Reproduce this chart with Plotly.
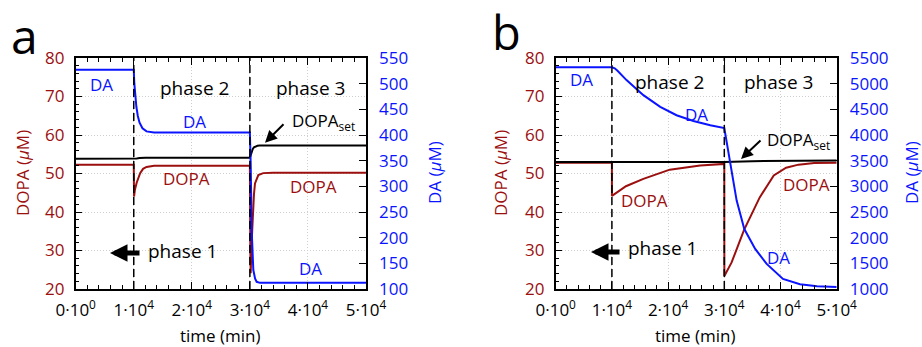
import plotly.graph_objects as go

# ---------------- data ----------------
# panel a
ta_da = [0, 10000, 10100, 10250, 10450, 10700, 11000, 11500, 12200, 13500, 30000,
         30140, 30310, 30590, 30900, 31170, 31740, 33000, 50000]
da_a = [527, 527, 500, 475, 455, 437, 424, 413, 407, 405, 405,
        345, 215, 137, 120, 114, 112, 112, 112]

ta_dopa = [0, 10000, 10050, 10200, 10500, 10800, 11100, 11600, 12200, 13500, 30000,
           30080, 30140, 30300, 30480, 30700, 30880, 31200, 31450, 32300, 34000, 50000]
dopa_a = [52.3, 52.3, 44.0, 45.8, 47.6, 49.0, 50.1, 51.2, 51.7, 52.0, 52.0,
          30.0, 24.1, 32.0, 39.7, 44.5, 47.4, 48.9, 49.6, 50.1, 50.2, 50.2]

ta_set = [0, 10000, 10500, 11000, 12000, 30000, 30150, 30300, 30500, 30700, 30900,
          31300, 31700, 33000, 50000]
set_a = [53.8, 53.8, 53.9, 54.0, 54.1, 54.1, 55.0, 55.7, 56.4, 56.8, 57.0,
         57.2, 57.25, 57.25, 57.25]

# panel b
tb_da = [0, 10000, 10500, 11000, 12600, 15600, 18600, 21500, 24500, 27500, 30000,
         30660, 31400, 32200, 33560, 35500, 37540, 40440, 43470, 46500, 50000]
da_b = [5320, 5320, 5300, 5252, 5070, 4776, 4547, 4385, 4274, 4189, 4136,
        3700, 3220, 2722, 2168, 1780, 1489, 1196, 1092, 1055, 1039]

tb_dopa = [0, 10000, 10010, 12500, 15600, 20300, 25700, 30000, 30010, 31300,
           33500, 36300, 38800, 41000, 43200, 46000, 50000]
dopa_b = [52.8, 52.8, 44.2, 46.7, 48.6, 51.0, 52.1, 52.5, 23.4, 26.9,
          35.3, 43.8, 49.5, 51.5, 52.3, 52.7, 52.8]

tb_set = [0, 30000, 35000, 40000, 50000]
set_b = [53.0, 53.0, 53.2, 53.3, 53.4]

x_ticks = [0, 10000, 20000, 30000, 40000, 50000]
x_ticktext = ["0·10<sup>0</sup>", "1·10<sup>4</sup>", "2·10<sup>4</sup>",
              "3·10<sup>4</sup>", "4·10<sup>4</sup>", "5·10<sup>4</sup>"]
phase_bounds = [10000, 30000]

# ---------------- styling ----------------
W, H = 922, 347
FONT = "Open Sans"
RED = "#9b0f0f"
BLUE = "#0a14ff"
BLK = "black"
GRID = "#cfcfcf"


def P(x, y):
    return x / W, 1 - y / H


fig = go.Figure()

panels = [
    dict(t_da=ta_da, da=da_a, t_dopa=ta_dopa, dopa=dopa_a, t_set=ta_set, dset=set_a,
         xa="x", ya="y", yb="y2", x0=75.7, x1=366.0, rrange=[100, 550], rdt=50),
    dict(t_da=tb_da, da=da_b, t_dopa=tb_dopa, dopa=dopa_b, t_set=tb_set, dset=set_b,
         xa="x2", ya="y3", yb="y4", x0=555.7, x1=836.7, rrange=[1000, 5500], rdt=500),
]

for p in panels:
    fig.add_trace(go.Scatter(x=p["t_dopa"], y=p["dopa"], mode="lines",
                             line=dict(color=RED, width=2), xaxis=p["xa"], yaxis=p["ya"]))
    fig.add_trace(go.Scatter(x=p["t_set"], y=p["dset"], mode="lines",
                             line=dict(color=BLK, width=2), xaxis=p["xa"], yaxis=p["ya"]))
    fig.add_trace(go.Scatter(x=p["t_da"], y=p["da"], mode="lines",
                             line=dict(color=BLUE, width=2), xaxis=p["xa"], yaxis=p["yb"]))
    for xb in phase_bounds:
        fig.add_shape(type="line", x0=xb, x1=xb, y0=20, y1=80, xref=p["xa"], yref=p["ya"],
                      line=dict(color=BLK, width=1.5, dash="8px,4px"))

y_top, y_bot = 58, 289
ydom = [1 - y_bot / H, 1 - y_top / H]

layout = dict(width=W, height=H, margin=dict(l=0, r=0, t=0, b=0, autoexpand=False),
              paper_bgcolor="white", plot_bgcolor="white", showlegend=False,
              font=dict(family=FONT, size=17, color=BLK))

for i, p in enumerate(panels):
    xk = "xaxis" if i == 0 else "xaxis2"
    yk = "yaxis" if i == 0 else "yaxis3"
    rk = "yaxis2" if i == 0 else "yaxis4"
    layout[xk] = dict(domain=[p["x0"] / W, p["x1"] / W], range=[0, 50000],
                      anchor=p["ya"], tickvals=x_ticks, ticktext=x_ticktext,
                      ticks="inside", ticklen=7, tickwidth=1, tickcolor=BLK,
                      showline=True, linecolor=BLK, linewidth=1.5, mirror="ticks",
                      showgrid=True, gridcolor=GRID, griddash="1px,2px", gridwidth=1,
                      zeroline=False, tickfont=dict(size=17, color=BLK),
                      ticklabelstandoff=5, automargin=False,
                      minor=dict(dtick=2000, tick0=0, ticks="inside", ticklen=4,
                                 tickcolor=BLK, showgrid=False))
    layout[yk] = dict(domain=ydom, range=[20, 80], anchor=p["xa"], dtick=10, tick0=0,
                      ticks="inside", ticklen=7, tickcolor=BLK,
                      showline=True, linecolor=BLK, linewidth=1.5, mirror=True,
                      showgrid=True, gridcolor=GRID, griddash="1px,2px", gridwidth=1,
                      zeroline=False, tickfont=dict(size=17, color=RED),
                      ticklabelstandoff=6, automargin=False,
                      minor=dict(dtick=2, ticks="inside", ticklen=4, tickcolor=BLK,
                                 showgrid=False))
    layout[rk] = dict(overlaying=p["ya"], side="right", anchor=p["xa"],
                      range=p["rrange"], dtick=p["rdt"], tick0=0,
                      ticks="inside", ticklen=7, tickcolor=BLK, showline=False,
                      showgrid=False, zeroline=False, automargin=False,
                      tickfont=dict(size=17, color=BLUE), ticklabelstandoff=12)

fig.update_layout(**layout)

ann = []


def txt(x, y, s, color=BLK, size=17, xanchor="center", angle=0):
    px, py = P(x, y)
    ann.append(dict(x=px, y=py, xref="paper", yref="paper", text=s, showarrow=False,
                    font=dict(family=FONT, size=size, color=color), xanchor=xanchor,
                    yanchor="middle", textangle=angle))


def arrow(hx, hy, tx, ty, width, size):
    px, py = P(hx, hy)
    ann.append(dict(x=px, y=py, xref="paper", yref="paper", text="", showarrow=True,
                    ax=tx - hx, ay=ty - hy, arrowhead=2, arrowwidth=width,
                    arrowsize=size, arrowcolor=BLK, standoff=0, startstandoff=0))


# panel a texts
txt(24, 35, "a", size=48)
txt(101.5, 84, "DA", BLUE)
txt(194, 88, "phase 2", size=19)
txt(310.5, 88, "phase 3", size=19)
txt(194.5, 122, "DA", BLUE)
txt(290, 122, "DOPA<sub>set</sub>", xanchor="left")
txt(186, 179, "DOPA", RED)
txt(313, 186, "DOPA", RED)
txt(146, 251, "phase 1", size=19, xanchor="left")
txt(310, 268, "DA", BLUE)
arrow(110, 253, 141, 253, 5, 0.7)
arrow(265, 142.7, 285, 122.7, 2, 1.2)
txt(220.5, 335, "time (min)", size=17)
txt(22, 173, "DOPA (<i>μ</i>M)", RED, size=17, angle=-90)
txt(434, 173, "DA (<i>μ</i>M)", BLUE, size=17, angle=-90)

# panel b texts
txt(506, 32, "b", size=47)
txt(581.5, 79, "DA", BLUE)
txt(669, 82, "phase 2", size=19)
txt(778, 82, "phase 3", size=19)
txt(696.5, 114, "DA", BLUE)
txt(765, 140, "DOPA<sub>set</sub>", xanchor="left")
txt(644, 200, "DOPA", RED)
txt(806, 184, "DOPA", RED)
txt(626, 248, "phase 1", size=19, xanchor="left")
txt(778.5, 257, "DA", BLUE)
arrow(591, 252, 621, 252, 5, 0.7)
arrow(741, 159, 762, 139, 2, 1.2)
txt(695.8, 335, "time (min)", size=17)
txt(500, 173, "DOPA (<i>μ</i>M)", RED, size=17, angle=-90)
txt(911, 173, "DA (<i>μ</i>M)", BLUE, size=17, angle=-90)

fig.update_layout(annotations=ann)
fig.write_html("out.html")
